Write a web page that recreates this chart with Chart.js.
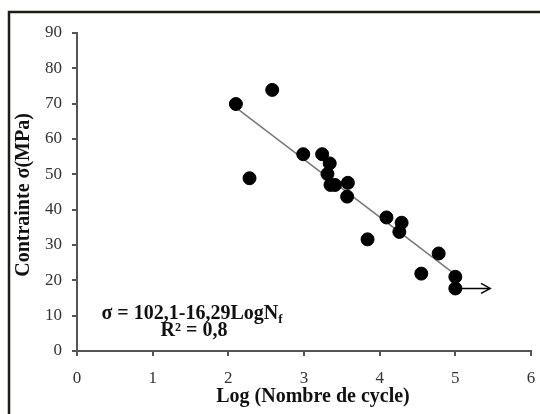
<!DOCTYPE html>
<html>
<head>
<meta charset="utf-8">
<script src="https://cdn.jsdelivr.net/npm/chart.js@4"></script>
<style>
  html, body { margin: 0; padding: 0; background: #fff; }
  #wrap { width: 540px; height: 414px; position: relative; }
</style>
</head>
<body>
<div id="wrap"><canvas id="chart"></canvas></div>
<script>
// data
var logN  = [2.10, 2.28, 2.58, 2.99, 3.24, 3.34, 3.31, 3.35, 3.41, 3.58, 3.57, 4.09, 4.29, 4.26, 3.84, 4.78, 4.55, 5.00, 5.00];
var sigma = [69.9, 48.9, 73.9, 55.7, 55.7, 53.1, 50.1, 47.0, 47.0, 47.6, 43.7, 37.8, 36.3, 33.7, 31.6, 27.6, 21.9, 21.0, 17.7];
var trendX = [2.10, 4.97];
var trendY = [68.9, 22.1];
var arrowX = [5.00, 5.46];
var arrowY = [17.7, 17.7];
var xTicks = [0, 1, 2, 3, 4, 5, 6];
var yTicks = [0, 10, 20, 30, 40, 50, 60, 70, 80, 90];
var eqLine1 = 'σ = 102,1-16,29LogN';
var eqSub = 'f';
var eqLine2 = 'R² = 0,8';
var xTitle = 'Log (Nombre de cycle)';
var yTitle = 'Contrainte σ(MPa)';

function pts(xs, ys) {
  var out = [];
  for (var i in xs) out.push({x: xs[i], y: ys[i]});
  return out;
}

var serif = '"Liberation Serif", "Times New Roman", serif';

var extras = {
  id: 'extras',
  afterDraw: function(chart) {
    var ctx = chart.ctx;
    var xs = chart.scales.x, ys = chart.scales.y;
    ctx.save();
    // frame (top and left only)
    ctx.strokeStyle = '#211d14';
    ctx.lineWidth = 2.5;
    ctx.beginPath();
    ctx.moveTo(540, 12);
    ctx.lineTo(9, 12);
    ctx.lineTo(9, 414);
    ctx.stroke();

    // arrow head
    var ex = xs.getPixelForValue(arrowX[1]), ey = ys.getPixelForValue(arrowY[1]);
    ctx.strokeStyle = '#000';
    ctx.lineWidth = 1.5;
    ctx.beginPath();
    ctx.moveTo(ex - 9, ey - 5);
    ctx.lineTo(ex, ey);
    ctx.lineTo(ex - 9, ey + 5);
    ctx.stroke();

    // axis titles
    ctx.fillStyle = '#111';
    ctx.font = 'bold 20px ' + serif;
    ctx.textAlign = 'center';
    ctx.textBaseline = 'middle';
    ctx.fillText(xTitle, 313, 397);
    ctx.translate(24, 195);
    ctx.rotate(-Math.PI / 2);
    ctx.fillText(yTitle, 0, 0);
    ctx.setTransform(1, 0, 0, 1, 0, 0);

    // equation
    ctx.font = 'bold 20px ' + serif;
    var w1 = ctx.measureText(eqLine1).width;
    ctx.font = 'bold 13px ' + serif;
    var w2 = ctx.measureText(eqSub).width;
    var x0 = 192 - (w1 + w2) / 2;
    ctx.textAlign = 'left';
    ctx.textBaseline = 'alphabetic';
    ctx.font = 'bold 20px ' + serif;
    ctx.fillText(eqLine1, x0, 319);
    ctx.font = 'bold 13px ' + serif;
    ctx.fillText(eqSub, x0 + w1, 323);
    ctx.font = 'bold 20px ' + serif;
    ctx.textAlign = 'center';
    ctx.fillText(eqLine2, 194, 336);
    ctx.restore();
  }
};

var ctx = document.getElementById('chart');
var chart = new Chart(ctx, {
  type: 'scatter',
  data: {
    datasets: [
      {
        label: 'points',
        data: pts(logN, sigma),
        backgroundColor: '#000',
        borderColor: '#000',
        pointRadius: 6.5,
        pointHoverRadius: 6.5
      },
      {
        label: 'trend',
        data: pts(trendX, trendY),
        showLine: true,
        borderColor: '#777',
        borderWidth: 1.5,
        pointRadius: 0
      },
      {
        label: 'arrow',
        data: pts(arrowX, arrowY),
        showLine: true,
        borderColor: '#000',
        borderWidth: 1.5,
        pointRadius: 0
      }
    ]
  },
  options: {
    responsive: true,
    maintainAspectRatio: false,
    animation: false,
    layout: { padding: { top: 33, right: 9, left: 0, bottom: 0 } },
    plugins: {
      legend: { display: false },
      tooltip: { enabled: false }
    },
    scales: {
      x: {
        type: 'linear',
        min: 0, max: 6,
        afterFit: function(s) { s.height = 63; s.paddingRight = 0; s.paddingLeft = 0; },
        afterBuildTicks: function(s) { s.ticks = xTicks.map(function(v) { return {value: v}; }); },
        grid: { drawOnChartArea: false, drawTicks: true, tickLength: 5, color: '#555', lineWidth: 2 },
        border: { color: '#555', width: 2 },
        ticks: { color: '#333', padding: 12, font: { family: serif, size: 17 } }
      },
      y: {
        type: 'linear',
        min: 0, max: 90,
        afterFit: function(s) { s.width = 77; s.paddingTop = 0; s.paddingBottom = 0; },
        afterBuildTicks: function(s) { s.ticks = yTicks.map(function(v) { return {value: v}; }); },
        grid: { drawOnChartArea: false, drawTicks: true, tickLength: 5, color: '#555', lineWidth: 2 },
        border: { color: '#555', width: 2 },
        ticks: { color: '#333', padding: 10, font: { family: serif, size: 17 } }
      }
    }
  },
  plugins: [extras]
});
</script>
</body>
</html>
